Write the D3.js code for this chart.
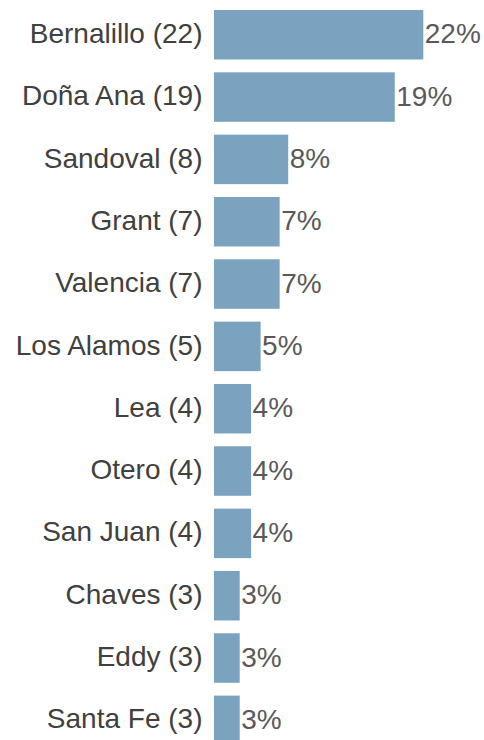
<!DOCTYPE html>
<html><head><meta charset="utf-8">
<script src="https://cdn.jsdelivr.net/npm/d3@7"></script>
<style>html,body{margin:0;padding:0;background:#fff;}</style>
</head><body>
<svg id="chart" width="484" height="740"></svg>
<script>
const counties = ["Bernalillo","Doña Ana","Sandoval","Grant","Valencia","Los Alamos","Lea","Otero","San Juan","Chaves","Eddy","Santa Fe"];
const counts = [22,19,8,7,7,5,4,4,4,3,3,3];
const percents = [22.0,19.0,7.8,6.9,6.9,4.9,3.9,3.9,3.9,2.7,2.7,2.7];
const pctLabels = ["22%","19%","8%","7%","7%","5%","4%","4%","4%","3%","3%","3%"];

const data = counties.map((c,i)=>({name:c+" ("+counts[i]+")", v:percents[i], lab:pctLabels[i]}));
const svg = d3.select("#chart");
const x0 = 214;
const x = d3.scaleLinear().domain([0,22]).range([x0, x0+209.3]);
const y = d3.scaleBand().domain(data.map(d=>d.name)).range([10, 745.1]).paddingInner(0.206).paddingOuter(0);

svg.selectAll("rect").data(data).join("rect")
  .attr("x", x(0)).attr("y", d=>y(d.name))
  .attr("width", d=>x(d.v)-x(0)).attr("height", y.bandwidth())
  .attr("fill", "#7ba2bf");

svg.selectAll("text.cat").data(data).join("text").attr("class","cat")
  .attr("x", 202.5).attr("y", d=>y(d.name)+y.bandwidth()/2)
  .attr("dy","0.29em").attr("text-anchor","end")
  .style("font-family","'Liberation Sans', Arial, sans-serif").style("font-size","28px")
  .attr("fill","#404040").text(d=>d.name);

svg.selectAll("text.val").data(data).join("text").attr("class","val")
  .attr("x", d=>x(d.v)+1.5).attr("y", d=>y(d.name)+y.bandwidth()/2)
  .attr("dy","0.31em")
  .style("font-family","'Liberation Sans', Arial, sans-serif").style("font-size","28px")
  .attr("fill","#595959").text(d=>d.lab);
</script>
</body></html>
